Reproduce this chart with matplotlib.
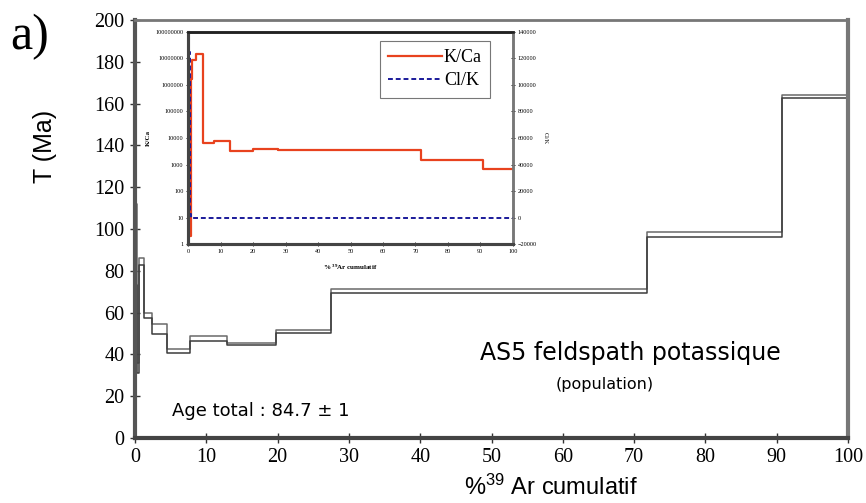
import matplotlib
matplotlib.use("Agg")
import matplotlib.pyplot as plt
from matplotlib.ticker import FixedLocator, FuncFormatter

plt.rcParams['mathtext.default'] = 'regular'

# ---- main age spectrum data ----
step_edges = [0, 0.1, 0.35, 0.6, 1.26, 2.43, 4.5, 7.7, 12.9, 19.8, 27.5, 71.8, 90.7, 100]
age_top = [166, 112, 36, 86, 60, 54.4, 42.4, 48.7, 45.5, 51.7, 71.3, 98.7, 164.3]
age_bot = [0, 73, 31, 83, 57.6, 49.6, 40.5, 46.6, 44.3, 50.2, 69.4, 96.0, 162.5]

# ---- inset data ----
kca_edges = [0, 0.4, 0.8, 1.0, 1.2, 2.4, 4.4, 7.8, 13.0, 20.0, 27.5, 71.8, 90.7, 100]
kca_vals = [60, 2, 1.7e6, 4e6, 8.7e6, 1.45e7, 6300, 8000, 3200, 4000, 3600, 1480, 700]
clk_edges = [0, 0.4, 0.7, 100]
clk_vals = [125000, 3000, 0]

main_yticks = list(range(0, 201, 20))
main_xticks = list(range(0, 101, 10))
inset_yticks = [1, 10, 100, 1000, 10000, 100000, 1000000, 10000000, 100000000]
inset_rticks = list(range(-20000, 140001, 20000))
inset_xticks = list(range(0, 101, 10))

fig = plt.figure(figsize=(8.66, 5.03), dpi=100)
ax = fig.add_axes([135/866, 1-438/503, (848-135)/866, (438-20)/503])

line_dark = '#3c3c3c'
line_light = '#6a6a6a'
ax.plot(step_edges, age_top + [age_top[-1]], drawstyle='steps-post', color=line_light, lw=1.1)
ax.plot(step_edges, age_bot + [age_bot[-1]], drawstyle='steps-post', color=line_dark, lw=1.1)

ax.set_xlim(0, 100)
ax.set_ylim(0, 200)
ax.xaxis.set_major_locator(FixedLocator(main_xticks))
ax.yaxis.set_major_locator(FixedLocator(main_yticks))
ax.tick_params(direction='inout', length=7, width=1, color='#333333', labelsize=14.5, pad=4)
for lbl in ax.get_xticklabels() + ax.get_yticklabels():
    lbl.set_fontfamily('Liberation Serif')
for side, w, c in [('left', 3, '#555555'), ('bottom', 3, '#444444'), ('top', 2, '#777777'), ('right', 3, '#777777')]:
    ax.spines[side].set_linewidth(w)
    ax.spines[side].set_color(c)

fig.text(45/866, 1-146/503, 'T (Ma)', fontfamily='Liberation Sans', fontsize=18,
         rotation=90, ha='center', va='center')
fig.text(551/866, 1-487/503, '%$^{39}$ Ar cumulatif', fontfamily='Liberation Sans', fontsize=17,
         ha='center', va='center')
fig.text(10/866, 1-37/503, 'a)', fontfamily='Liberation Serif', fontsize=36, ha='left', va='center')

fig.text(630/866, 1-353/503, 'AS5 feldspath potassique', fontfamily='DejaVu Sans', fontsize=17,
         ha='center', va='center')
fig.text(605/866, 1-384/503, '(population)', fontfamily='DejaVu Sans', fontsize=11.5,
         ha='center', va='center')
fig.text(172/866, 1-411/503, 'Age total : 84.7 ± 1', fontfamily='DejaVu Sans', fontsize=13,
         ha='left', va='center')

# ---- inset ----
ins = fig.add_axes([188.3/866, 1-244.3/503, (512.7-188.3)/866, (244.3-31.7)/503])
red = '#e8421e'
blue = '#1a1a9a'
l1, = ins.plot(kca_edges, kca_vals + [kca_vals[-1]], drawstyle='steps-post', color=red, lw=1.6, label='K/Ca')
ins.set_yscale('log')
ins.set_ylim(1, 1e8)
ins.set_xlim(0, 100)
ins.yaxis.set_major_locator(FixedLocator(inset_yticks))
ins.yaxis.set_minor_locator(FixedLocator([]))
ins.yaxis.set_major_formatter(FuncFormatter(lambda v, p: '%d' % round(v)))
ins.xaxis.set_major_locator(FixedLocator(inset_xticks))
ins.tick_params(direction='inout', length=3, width=0.6, labelsize=4.5, pad=2)
for lbl in ins.get_xticklabels() + ins.get_yticklabels():
    lbl.set_fontfamily('Liberation Serif')
ins.set_ylabel('K/Ca', fontfamily='Liberation Serif', fontsize=5, fontweight='bold', labelpad=3)
ins.set_xlabel('% $^{39}$Ar cumulatif', fontfamily='Liberation Serif', fontsize=5, fontweight='bold', labelpad=6)

ins2 = ins.twinx()
l2, = ins2.plot(clk_edges, clk_vals + [clk_vals[-1]], drawstyle='steps-post', color=blue, lw=1.4,
                dashes=(2.5, 1.5), label='Cl/K')
ins2.set_ylim(-20000, 140000)
ins2.yaxis.set_major_locator(FixedLocator(inset_rticks))
ins2.tick_params(direction='inout', length=3, width=0.6, labelsize=4.5, pad=2)
for lbl in ins2.get_yticklabels():
    lbl.set_fontfamily('Liberation Serif')
ins2.set_ylabel('Cl/K', fontfamily='Liberation Serif', fontsize=4.5, rotation=270, labelpad=8)

for a in (ins, ins2):
    a.patch.set_alpha(0)
    a.spines['left'].set_linewidth(2.2); a.spines['left'].set_color('#444444')
    a.spines['bottom'].set_linewidth(2.2); a.spines['bottom'].set_color('#444444')
    a.spines['top'].set_linewidth(1.8); a.spines['top'].set_color('#222222')
    a.spines['right'].set_linewidth(1.8); a.spines['right'].set_color('#777777')
ins.patch.set_alpha(1)
ins.patch.set_facecolor('white')

leg = ins2.legend(handles=[l1, l2], loc='upper right', bbox_to_anchor=(0.93, 0.956),
                  prop={'family': 'Liberation Serif', 'size': 13}, frameon=True, fancybox=False,
                  edgecolor='#555555', handlelength=3.0, handletextpad=0.1, borderpad=0.45,
                  labelspacing=0.35, borderaxespad=0)
leg.get_frame().set_linewidth(0.8)

fig.savefig('out.png', dpi=100)
